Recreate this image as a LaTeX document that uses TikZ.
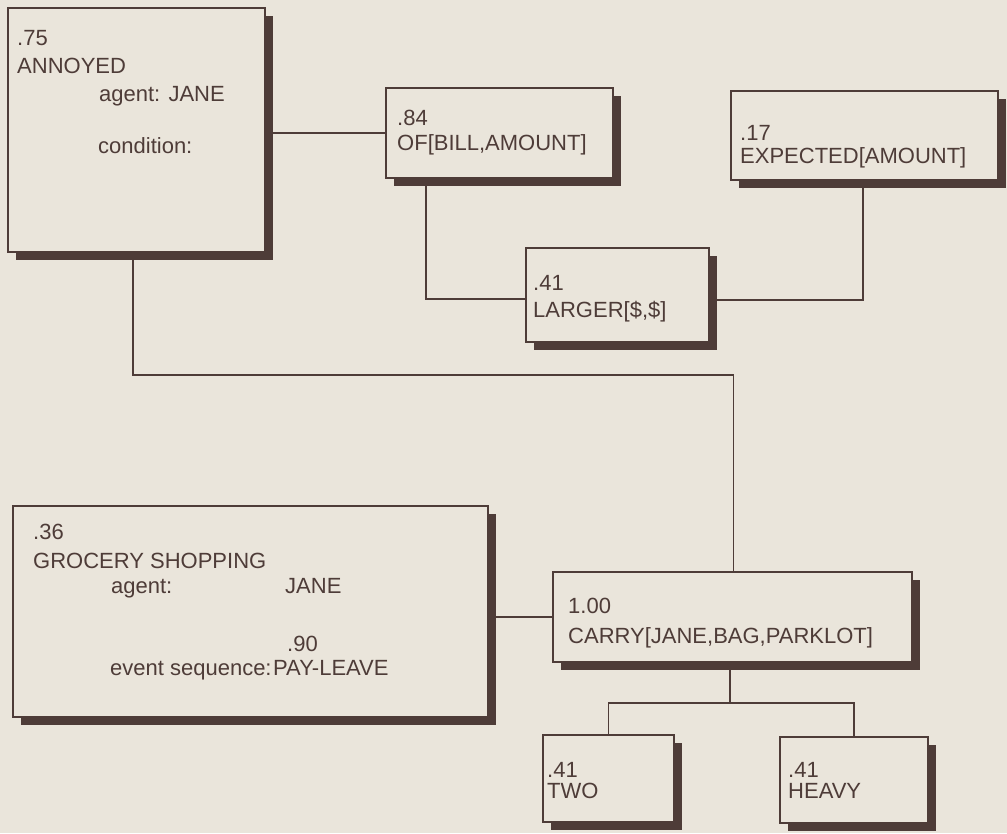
\documentclass[tikz,border=0pt]{standalone}
\usepackage{fontspec}
\setmainfont{Liberation Sans}
\usetikzlibrary{shadows}
\definecolor{paper}{RGB}{234,229,219}
\definecolor{ink}{RGB}{78,60,56}
\begin{document}
\begin{tikzpicture}[x=1pt,y=-1pt,
  framebox/.style={draw=ink, fill=paper, line width=1.9pt, rectangle, inner sep=0pt,
    drop shadow={shadow xshift=8pt, shadow yshift=-8pt, opacity=1, fill=ink}},
  label/.style={anchor=base west, inner sep=0pt, text=ink,
    font=\fontsize{22}{26}\selectfont},
  link/.style={draw=ink, line width=1.9pt}]
% page
\fill[paper] (0,0) rectangle (1007,833);
\useasboundingbox (0,0) rectangle (1007,833);

% concept frames
\node[framebox, minimum width=257, minimum height=244] (annoyed)  at (136.5,130) {};
\node[framebox, minimum width=227, minimum height=90]  (of)       at (499.5,133) {};
\node[framebox, minimum width=267, minimum height=89]  (expected) at (864.5,135.5) {};
\node[framebox, minimum width=183, minimum height=94]  (larger)   at (617.5,295) {};
\node[framebox, minimum width=475, minimum height=211] (grocery)  at (250.5,611.5) {};
\node[framebox, minimum width=359, minimum height=90]  (carry)    at (732.5,617) {};
\node[framebox, minimum width=131, minimum height=87]  (two)      at (608.5,778.5) {};
\node[framebox, minimum width=148, minimum height=86]  (heavy)    at (854,780) {};

% links between frames
\draw[link] (of.west) -- (of.west -| annoyed.east);
\draw[link] ([xshift=41pt]of.south west) |- ([yshift=-4pt]larger.west);
\draw[link] ([yshift=-5pt]larger.east) -| ([xshift=-1.5pt]expected.south);
\draw[link] ([xshift=126pt]annoyed.south west) -- ++(0,122) -| ([xshift=1pt]carry.north);
\draw[link] (carry.west) -- (carry.west -| grocery.east);
\draw[link] ([xshift=-2.5pt]carry.south) -- ++(0,40) coordinate (fork);
\draw[link] (two.north) |- (fork) -| (heavy.north);

% frame contents
\node[label] (annoyedScore) at (17,45)  {.75};
\node[label] (annoyedName)  at (17,73)  {ANNOYED};
\node[label] (annoyedAgent) at (99,101) {agent: JANE};
\node[label] (annoyedCond)  at (98,153) {condition:};

\node[label] (ofScore) at (397,125) {.84};
\node[label] (ofName)  at (397,150) {OF[BILL,AMOUNT]};

\node[label] (expScore) at (740,140) {.17};
\node[label] (expName)  at (740,163) {EXPECTED[AMOUNT]};

\node[label] (largerScore) at (533,290) {.41};
\node[label] (largerName)  at (533,317) {LARGER[\$,\$]};

\node[label] (carryScore) at (568,613) {1.00};
\node[label] (carryName)  at (568,643) {CARRY[JANE,BAG,PARKLOT]};

\node[label] (groScore)  at (33,539)  {.36};
\node[label] (groName)   at (33,568)  {GROCERY SHOPPING};
\node[label] (groAgent)  at (111,593) {agent:};
\node[label] (groJane)   at (285,593) {JANE};
\node[label] (groSeqSc)  at (287,651) {.90};
\node[label] (groSeq)    at (110,675) {event sequence:};
\node[label] (groSeqVal) at (273,675) {PAY-LEAVE};

\node[label] (twoScore) at (547,777) {.41};
\node[label] (twoName)  at (547,798) {TWO};

\node[label] (heavyScore) at (788,777) {.41};
\node[label] (heavyName)  at (788,798) {HEAVY};
\end{tikzpicture}
\end{document}
